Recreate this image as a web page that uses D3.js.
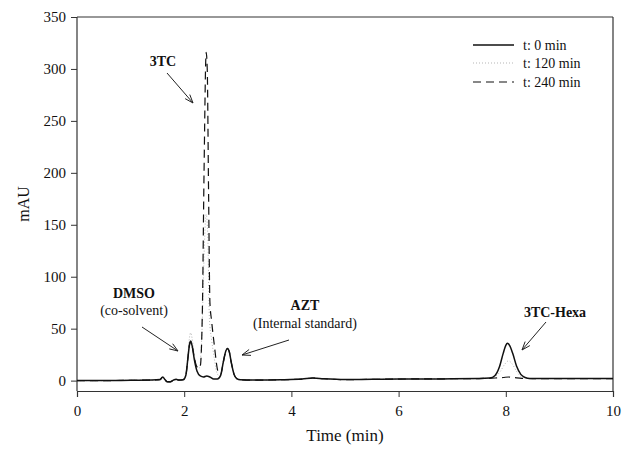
<!DOCTYPE html>
<html>
<head>
<meta charset="utf-8">
<script src="https://cdn.jsdelivr.net/npm/d3@7"></script>
<style>
  body { margin: 0; background: #fff; }
  svg { display: block; font-family: "Liberation Serif", "Times New Roman", serif; }
</style>
</head>
<body>
<svg id="chart" width="622" height="450"></svg>
<script>
// ---- data ----
const xTicks = [0, 2, 4, 6, 8, 10];
const yTicks = [0, 50, 100, 150, 200, 250, 300, 350];

const time0 = [0, 0.5, 1.0, 1.4, 1.55, 1.6, 1.64, 1.68, 1.74, 1.8, 1.85, 1.9, 1.98, 2.03, 2.07, 2.1, 2.12, 2.15, 2.19, 2.24, 2.3, 2.36, 2.42, 2.48, 2.55, 2.62, 2.68, 2.73, 2.78, 2.81, 2.84, 2.88, 2.93, 2.98, 3.05, 3.3, 3.8, 4.2, 4.4, 4.6, 5.0, 5.5, 6.0, 6.5, 7.0, 7.5, 7.7, 7.8, 7.88, 7.95, 8.0, 8.03, 8.07, 8.13, 8.2, 8.28, 8.36, 8.45, 9.0, 9.5, 10];
const signal0 = [0, 0, 0.3, 0.5, 1, 3.5, 1, -1, -1.2, 0.5, 1.2, 0.5, 0.8, 5, 22, 35, 38, 33, 20, 9, 4.5, 3.5, 4.5, 3.5, 1.5, 1.5, 5, 18, 29, 31, 28, 17, 6, 2, 0.8, 0.5, 0.8, 1.5, 2.5, 1.8, 1, 1.2, 1.5, 1.5, 1.8, 2, 2.5, 5, 13, 26, 34, 36, 34, 26, 14, 6, 3, 2, 2, 2, 2];

const time120 = [0, 0.5, 1.0, 1.4, 1.55, 1.6, 1.64, 1.68, 1.74, 1.8, 1.9, 1.98, 2.03, 2.07, 2.1, 2.12, 2.15, 2.19, 2.24, 2.28, 2.33, 2.37, 2.41, 2.44, 2.47, 2.51, 2.56, 2.62, 2.68, 2.73, 2.78, 2.81, 2.84, 2.88, 2.93, 2.98, 3.05, 3.3, 3.8, 4.2, 4.4, 4.6, 5.0, 6.0, 7.0, 7.5, 7.7, 7.8, 7.9, 7.97, 8.05, 8.12, 8.2, 8.28, 8.36, 8.45, 9.0, 10];
const signal120 = [0, 0, 0.3, 0.5, 1, 3.5, 1, -1, -1.2, 0.5, 0.5, 0.8, 6, 26, 42, 46, 40, 24, 13, 12, 45, 120, 160, 140, 60, 40, 22, 6, 5, 18, 29, 31, 28, 17, 6, 2, 0.8, 0.5, 0.8, 1.5, 2.5, 1.8, 1, 1.5, 1.8, 2, 2.5, 4, 9, 15, 19, 16, 9, 4, 2.5, 2, 2, 2];

const time240 = [0, 0.5, 1.0, 1.4, 1.55, 1.6, 1.64, 1.68, 1.74, 1.8, 1.85, 1.9, 1.98, 2.03, 2.07, 2.1, 2.12, 2.15, 2.19, 2.23, 2.27, 2.3, 2.34, 2.37, 2.41, 2.43, 2.455, 2.48, 2.51, 2.56, 2.63, 2.68, 2.73, 2.78, 2.81, 2.84, 2.88, 2.93, 2.98, 3.05, 3.3, 3.8, 4.2, 4.4, 4.6, 5.0, 6.0, 7.0, 7.5, 7.8, 7.95, 8.05, 8.15, 8.3, 8.5, 9.0, 10];
const signal240 = [0, 0, 0.3, 0.5, 1, 3.5, 1, -1, -1.2, 0.5, 1.2, 0.5, 0.8, 5, 22, 35, 38, 33, 22, 14, 12, 14, 70, 200, 316, 300, 180, 75, 58, 35, 9, 6, 18, 29, 31, 28, 17, 6, 2, 0.8, 0.5, 0.8, 1.5, 2.5, 1.8, 1, 1.5, 1.8, 2, 2.5, 3, 3.5, 3, 2.2, 2, 2, 2];

const seriesNames = ["t: 0 min", "t: 120 min", "t: 240 min"];

const annotations = [
  { bold: "3TC", sub: null },
  { bold: "DMSO", sub: "(co-solvent)" },
  { bold: "AZT", sub: "(Internal standard)" },
  { bold: "3TC-Hexa", sub: null }
];

// ---- layout ----
const svg = d3.select("#chart");
const L = 77, R = 613, T = 17, B = 391;
const x = d3.scaleLinear().domain([0, 10]).range([L, R]);
const y = d3.scaleLinear().domain([-10, 350]).range([B, T]);
const axisColor = "#333";
const textColor = "#111";

// frame (top & right)
svg.append("line").attr("x1", L).attr("x2", R).attr("y1", T).attr("y2", T)
  .attr("stroke", axisColor).attr("stroke-width", 1.2);
svg.append("line").attr("x1", R).attr("x2", R).attr("y1", T).attr("y2", B)
  .attr("stroke", axisColor).attr("stroke-width", 1.2);

// axes
const xAxis = svg.append("g").attr("transform", `translate(0,${B})`)
  .call(d3.axisBottom(x).tickValues(xTicks).tickSize(6).tickPadding(8).tickFormat(d3.format("d")));
const yAxis = svg.append("g").attr("transform", `translate(${L},0)`)
  .call(d3.axisLeft(y).tickValues(yTicks).tickSize(6).tickPadding(5).tickFormat(d3.format("d")));
[xAxis, yAxis].forEach(g => {
  g.select(".domain").attr("stroke", axisColor).attr("stroke-width", 1.2);
  g.selectAll(".tick line").attr("stroke", axisColor).attr("stroke-width", 1);
  g.selectAll(".tick text").attr("font-family", "Liberation Serif").attr("font-size", 15).attr("fill", textColor);
});
yAxis.select(".domain").attr("d", `M0,${B}V${T}`);

// axis titles
svg.append("text").attr("x", (L + R) / 2).attr("y", 441).attr("text-anchor", "middle")
  .attr("font-size", 17).attr("fill", textColor).text("Time (min)");
svg.append("text").attr("transform", `translate(29,${(T + B) / 2}) rotate(-90)`)
  .attr("text-anchor", "middle").attr("font-size", 16).attr("fill", textColor).text("mAU");

// lines
const line = d3.line().x(d => x(d[0])).y(d => y(d[1])).curve(d3.curveMonotoneX);
const styles = [
  { color: "#111", width: 1.5, dash: null },
  { color: "#b5b5b5", width: 1, dash: "1,2" },
  { color: "#111", width: 1.2, dash: "8,5" }
];
const data = [
  d3.zip(time0, signal0),
  d3.zip(time120, signal120),
  d3.zip(time240, signal240)
];
[1, 2, 0].forEach(i => {
  svg.append("path").datum(data[i]).attr("d", line)
    .attr("fill", "none").attr("stroke", styles[i].color)
    .attr("stroke-width", styles[i].width)
    .attr("stroke-dasharray", styles[i].dash)
    .attr("stroke-linejoin", "round");
});

// legend
const legY = [45, 63, 82];
seriesNames.forEach((name, i) => {
  svg.append("line").attr("x1", 473).attr("x2", 514).attr("y1", legY[i]).attr("y2", legY[i])
    .attr("stroke", styles[i].color).attr("stroke-width", styles[i].width)
    .attr("stroke-dasharray", styles[i].dash);
  svg.append("text").attr("x", 523).attr("y", legY[i] + 5).attr("font-size", 14)
    .attr("fill", textColor).text(name);
});

// annotations
function label(a, cx, by, subY) {
  svg.append("text").attr("x", cx).attr("y", by).attr("text-anchor", "middle")
    .attr("font-size", 14).attr("font-weight", "bold").attr("fill", textColor).text(a.bold);
  if (a.sub) svg.append("text").attr("x", cx).attr("y", subY).attr("text-anchor", "middle")
    .attr("font-size", 14).attr("fill", textColor).text(a.sub);
}
function arrow(x1, y1, x2, y2) {
  const ang = Math.atan2(y2 - y1, x2 - x1), len = 9, spread = 0.35;
  svg.append("line").attr("x1", x1).attr("y1", y1).attr("x2", x2).attr("y2", y2)
    .attr("stroke", "#222").attr("stroke-width", 1);
  const p = [ang + Math.PI - spread, ang + Math.PI + spread]
    .map(a => [x2 + len * Math.cos(a), y2 + len * Math.sin(a)]);
  svg.append("path").attr("d", `M${p[0][0]},${p[0][1]}L${x2},${y2}L${p[1][0]},${p[1][1]}`)
    .attr("fill", "none").attr("stroke", "#222").attr("stroke-width", 1);
}
label(annotations[0], 163, 66);
arrow(167, 73, 193, 103);
label(annotations[1], 134, 298, 315);
arrow(142, 327, 178, 351);
label(annotations[2], 305, 310, 328);
arrow(289, 340, 242, 355);
label(annotations[3], 555, 317);
arrow(546, 322, 522, 350);
</script>
</body>
</html>
